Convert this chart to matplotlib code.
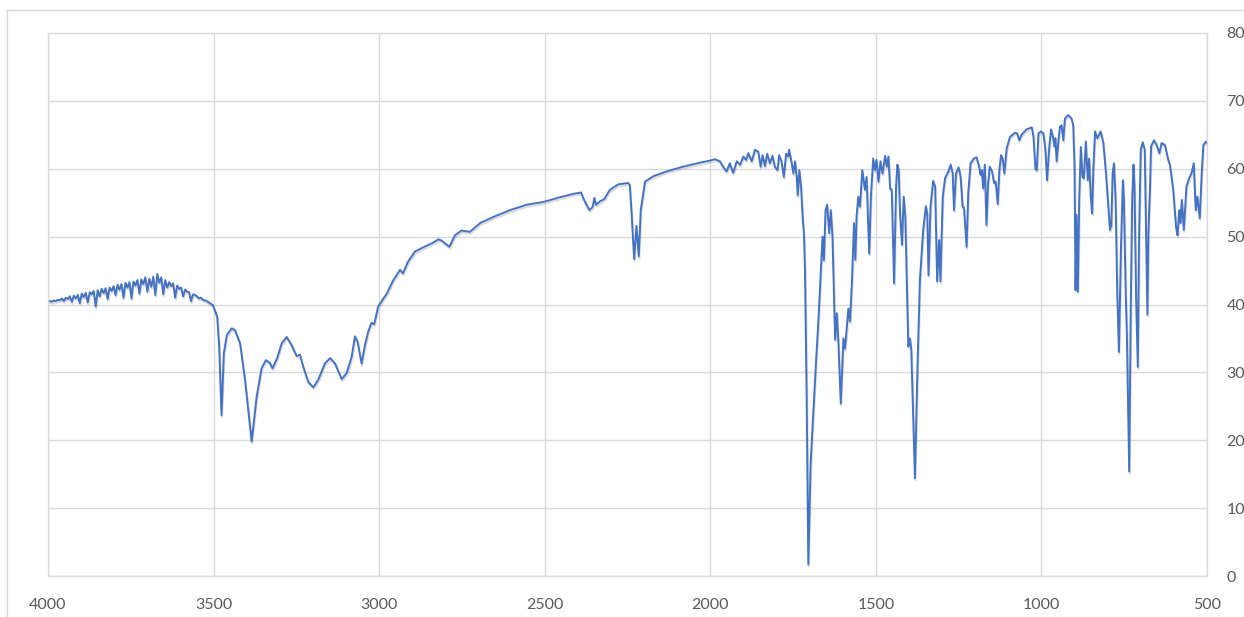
import numpy as np
import matplotlib.pyplot as plt
from matplotlib import patheffects as pe
from matplotlib.lines import Line2D

plt.rcParams['font.family'] = ['Lato', 'DejaVu Sans']

# IR spectrum: wavenumber (cm-1) and transmittance (%)
wn_noise = [4000, 3994, 3988, 3982, 3976, 3970, 3964, 3958, 3952, 3946, 3940, 3934, 3928, 3922,
            3916, 3910, 3904, 3898, 3892, 3886, 3880, 3874, 3868, 3862, 3856, 3850, 3844, 3838,
            3832, 3826, 3820, 3814, 3808, 3802, 3796, 3790, 3784, 3778, 3772, 3766, 3760, 3754,
            3748, 3742, 3736, 3730, 3724, 3718, 3712, 3706, 3700, 3694, 3688, 3682, 3676, 3670,
            3664, 3658, 3652, 3646, 3640, 3634, 3628, 3622, 3616, 3610, 3604, 3598, 3592, 3586,
            3580, 3574, 3568, 3562, 3556, 3550, 3544, 3538, 3532, 3526, 3520, 3514, 3508, 3502]
t_noise = [40.5, 40.5, 40.4, 40.6, 40.5, 40.7, 40.6, 40.9, 40.5, 41.0, 40.8, 41.2, 40.4, 41.3,
           40.9, 41.4, 40.2, 41.6, 41.1, 41.7, 40.3, 41.8, 41.5, 42.0, 39.7, 42.1, 41.2, 42.3,
           41.7, 42.4, 40.8, 42.5, 42.0, 42.7, 41.4, 42.9, 42.2, 43.0, 41.0, 43.2, 42.5, 43.3,
           40.9, 43.4, 42.8, 43.6, 41.6, 43.7, 43.0, 44.0, 41.9, 43.8, 42.6, 44.1, 41.4, 44.5,
           43.2, 44.0, 41.5, 43.6, 42.5, 43.3, 42.7, 43.1, 41.0, 42.8, 42.3, 42.5, 41.2, 42.2,
           41.9, 41.8, 40.5, 41.5, 41.4, 41.2, 40.9, 41.0, 40.7, 40.6, 40.5, 40.3, 40.1, 39.9]

wn_nh = [3489, 3483, 3476, 3469, 3460, 3445, 3435, 3420, 3405, 3385, 3370, 3355, 3342, 3330,
         3322, 3308, 3294, 3279, 3264, 3249, 3239, 3229, 3214, 3199, 3184, 3164, 3148, 3133,
         3113, 3098, 3083, 3073, 3065, 3053, 3043, 3033, 3023, 3015, 3003, 2977, 2957]
t_nh = [38.2, 33.8, 23.7, 32.8, 35.5, 36.5, 36.2, 34.3, 28.9, 19.8, 26.4, 30.6, 31.8, 31.4,
        30.6, 32.1, 34.3, 35.2, 34.0, 32.4, 32.6, 30.8, 28.6, 27.8, 28.9, 31.3, 32.1, 31.3,
        29.0, 29.9, 32.3, 35.3, 34.5, 31.3, 34.0, 36.0, 37.3, 37.1, 39.7, 41.6, 43.6]

wn_mid = [2937, 2928, 2913, 2892, 2868, 2841, 2821, 2811, 2788, 2771, 2751, 2726, 2695, 2655,
          2605, 2554, 2504, 2454, 2414, 2390, 2383, 2365, 2355, 2350, 2345, 2333, 2321, 2303,
          2278, 2248, 2243, 2237, 2230, 2223, 2216, 2210, 2197, 2172, 2132, 2082, 2031]
t_mid = [45.1, 44.6, 46.3, 47.8, 48.4, 49.0, 49.6, 49.4, 48.5, 50.2, 50.9, 50.7, 52.0, 52.9,
         53.9, 54.7, 55.1, 55.8, 56.3, 56.5, 55.6, 53.9, 54.4, 55.7, 54.7, 55.2, 55.5, 56.9,
         57.7, 57.9, 57.6, 52.9, 46.7, 51.6, 47.1, 53.9, 58.1, 58.9, 59.6, 60.3, 60.9]

wn_co = [2001, 1986, 1971, 1961, 1951, 1941, 1931, 1920, 1910, 1900, 1892, 1885, 1875, 1865,
         1855, 1848, 1842, 1835, 1828, 1820, 1812, 1805, 1797, 1792, 1785, 1778, 1771, 1765,
         1762, 1754, 1749, 1744, 1739, 1736, 1731, 1726, 1721, 1717, 1714, 1709, 1704, 1697,
         1689, 1681, 1674, 1666, 1661, 1657, 1652, 1647]
t_co = [61.2, 61.4, 61.1, 60.3, 59.6, 60.8, 59.4, 61.1, 60.6, 61.8, 61.3, 62.3, 61.1, 62.8,
        62.5, 60.3, 62.0, 60.4, 62.2, 60.8, 61.9, 60.3, 59.8, 62.0, 61.1, 58.8, 62.2, 61.8,
        62.8, 60.8, 59.3, 61.1, 58.8, 56.1, 59.8, 57.4, 52.9, 50.2, 45.1, 26.4, 1.7, 16.6,
        24.0, 31.3, 37.2, 45.1, 50.0, 46.5, 53.9, 54.7]

wn_fp1 = [1641, 1636, 1631, 1623, 1618, 1613, 1606, 1598, 1593, 1583, 1578, 1572, 1566, 1562,
          1558, 1553, 1548, 1541, 1533, 1528, 1520, 1515, 1508, 1503, 1498, 1492, 1486, 1480,
          1472, 1467, 1462, 1457, 1452, 1445, 1439, 1435, 1431, 1427, 1421, 1416, 1411, 1402,
          1397, 1393, 1382, 1374, 1367, 1357, 1349, 1345, 1341, 1335, 1327, 1321, 1315, 1309,
          1305, 1298, 1291, 1281, 1274, 1268, 1264, 1258]
t_fp1 = [50.5, 53.9, 50.0, 34.8, 38.7, 34.3, 25.4, 35.0, 33.5, 39.4, 37.5, 43.6, 52.0, 46.6,
         53.2, 55.9, 54.4, 59.8, 56.9, 58.8, 47.5, 55.9, 61.5, 59.8, 61.3, 58.1, 61.1, 59.3,
         61.9, 60.3, 61.8, 57.1, 56.9, 43.1, 57.4, 60.6, 59.8, 53.4, 48.8, 55.9, 52.9, 33.8,
         35.0, 33.3, 14.4, 31.3, 43.6, 51.0, 54.5, 53.4, 44.3, 54.4, 58.2, 57.4, 43.4, 49.5,
         43.4, 55.9, 58.6, 59.6, 60.6, 59.3, 53.9, 59.3]

wn_fp2 = [1250, 1244, 1238, 1234, 1226, 1221, 1214, 1204, 1196, 1188, 1184, 1180, 1176, 1171,
          1166, 1161, 1156, 1149, 1143, 1138, 1132, 1127, 1122, 1117, 1112, 1105, 1095, 1080,
          1073, 1067, 1060, 1045, 1029, 1024, 1018, 1014, 1009, 1002, 994, 988, 983, 977, 971,
          965, 961, 958, 954, 949, 944, 939, 934, 929, 919, 909, 904, 900, 897, 894, 890, 886,
          881]
t_fp2 = [60.2, 58.8, 54.4, 54.3, 48.5, 56.4, 60.8, 61.5, 61.7, 60.3, 59.1, 59.8, 57.1, 60.6,
         51.7, 57.9, 60.3, 59.6, 57.9, 58.1, 54.8, 59.8, 62.0, 61.5, 59.3, 63.0, 64.7, 65.3,
         65.2, 64.2, 65.0, 65.8, 66.1, 64.7, 60.0, 59.8, 65.2, 65.5, 65.2, 62.8, 58.3, 62.8, 65.8,
         64.7, 63.3, 64.5, 61.1, 64.0, 66.2, 66.4, 64.2, 67.4, 67.9, 67.4, 66.4, 60.3, 42.1,
         53.2, 41.9, 55.4, 63.2]

wn_low = [876, 872, 866, 860, 856, 851, 847, 843, 838, 831, 821, 813, 805, 798, 793, 789, 785,
          781, 776, 771, 766, 760, 754, 751, 745, 742, 735, 730, 726, 722, 719, 714, 709, 705,
          700, 694, 688, 684, 680, 677, 672, 669, 660, 652, 644, 637, 627, 617, 612, 602, 593,
          589, 584, 580, 576, 570, 562, 554, 547, 540, 534, 529, 522, 516, 511, 503, 500]
t_low = [58.8, 58.6, 64.0, 58.3, 61.5, 55.9, 53.4, 60.3, 65.5, 64.5, 65.5, 63.8, 59.3, 54.4,
         51.0, 51.7, 59.3, 60.8, 55.4, 41.6, 33.0, 48.0, 58.3, 55.4, 40.7, 35.8, 15.4, 40.7,
         55.4, 60.6, 57.4, 40.7, 30.8, 50.5, 62.8, 63.9, 62.8, 50.5, 38.5, 50.5, 57.4, 63.3,
         64.2, 63.5, 62.3, 63.8, 63.5, 61.3, 60.6, 56.9, 51.2, 50.2, 53.9, 52.0, 55.4, 51.0,
         57.4, 58.6, 59.3, 60.8, 53.9, 55.9, 52.7, 59.3, 63.5, 64.0, 63.8]

wavenumber = np.array(wn_noise + wn_nh + wn_mid + wn_co + wn_fp1 + wn_fp2 + wn_low)
transmittance = np.array(t_noise + t_nh + t_mid + t_co + t_fp1 + t_fp2 + t_low)

x_ticks = [4000, 3500, 3000, 2500, 2000, 1500, 1000, 500]
y_ticks = [0, 10, 20, 30, 40, 50, 60, 70, 80]

fig = plt.figure(figsize=(12.44, 6.17), dpi=100)
ax = fig.add_axes([48 / 1244, 1 - 576 / 617, (1207 - 48) / 1244, (576 - 33) / 617])

ax.plot(wavenumber, transmittance, color="#4472C4", lw=1.4, solid_joinstyle="round",
        path_effects=[pe.SimpleLineShadow(offset=(0.5, -1.5), shadow_color="#9a9a9a", alpha=0.35),
                      pe.Normal()])

ax.set_xlim(4000, 500)
ax.set_ylim(0, 80)
ax.set_xticks(x_ticks)
ax.set_yticks(y_ticks)
ax.yaxis.tick_right()
ax.grid(True, color="#D9D9D9", lw=1.0)
ax.set_axisbelow(True)
for s in ax.spines.values():
    s.set_color("#D9D9D9")
    s.set_linewidth(1.0)
ax.tick_params(axis="both", length=0, labelsize=11.5, labelcolor="#595959")
ax.tick_params(axis="x", pad=16)
ax.tick_params(axis="y", pad=14)

# outer chart frame
fig.add_artist(Line2D([7 / 1244, 7 / 1244], [0, 1 - 10 / 617], transform=fig.transFigure,
                      color="#D9D9D9", lw=1.0))
fig.add_artist(Line2D([7 / 1244, 1], [1 - 10 / 617, 1 - 10 / 617], transform=fig.transFigure,
                      color="#D9D9D9", lw=1.0))

fig.savefig("out.png", dpi=100)
